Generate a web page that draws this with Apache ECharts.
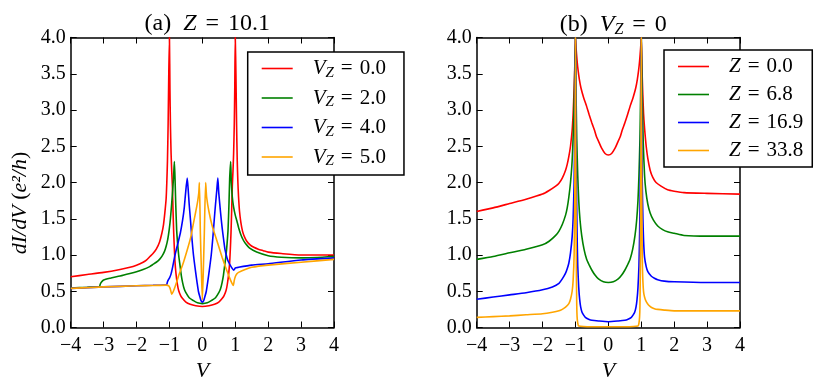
<!DOCTYPE html>
<html>
<head>
<meta charset="utf-8">
<script src="https://cdn.jsdelivr.net/npm/echarts@6/dist/echarts.min.js"></script>
<style>
  html, body { margin: 0; padding: 0; background: #fff; }
  #chart { width: 831px; height: 389px; }
</style>
</head>
<body>
<div id="chart"></div>
<script>
// panel (a): Z = 10.1, one curve per V_Z  -> [V, dI/dV]
const aVz0 = [[-4,0.70],[-3.5,0.73],[-3,0.76],[-2.5,0.80],[-2.2,0.83],[-2,0.86],[-1.8,0.90],[-1.7,0.93],[-1.59,0.98],[-1.5,1.02],[-1.4,1.08],[-1.3,1.18],[-1.23,1.30],[-1.18,1.42],[-1.14,1.58],[-1.1,1.78],[-1.08,2.0],[-1.06,2.3],[-1.04,2.8],[-1.02,3.5],[-1.0,4.0],[-0.985,3.3],[-0.97,2.8],[-0.95,2.4],[-0.93,2.15],[-0.91,1.95],[-0.89,1.6],[-0.87,1.3],[-0.85,1.08],[-0.83,0.9],[-0.8,0.74],[-0.76,0.6],[-0.72,0.51],[-0.66,0.44],[-0.6,0.4],[-0.5,0.35],[-0.37,0.32],[-0.2,0.30],[0,0.29],[0.2,0.30],[0.37,0.32],[0.5,0.35],[0.6,0.4],[0.66,0.44],[0.72,0.51],[0.76,0.6],[0.8,0.74],[0.83,0.9],[0.85,1.08],[0.87,1.3],[0.89,1.6],[0.91,1.95],[0.93,2.15],[0.95,2.4],[0.97,2.8],[0.985,3.3],[1.0,4.0],[1.02,3.5],[1.04,2.8],[1.06,2.3],[1.08,2.0],[1.1,1.8],[1.13,1.6],[1.17,1.45],[1.22,1.33],[1.28,1.25],[1.35,1.19],[1.45,1.14],[1.55,1.11],[1.7,1.08],[1.85,1.06],[2.0,1.04],[2.4,1.02],[3,1.0],[4,1.0]];
const aVz2 = [[-4,0.545],[-3.5,0.555],[-3.13,0.565],[-3.1,0.6],[-3.07,0.625],[-3,0.655],[-2.8,0.68],[-2.5,0.71],[-2.2,0.745],[-2,0.77],[-1.8,0.8],[-1.6,0.84],[-1.5,0.87],[-1.4,0.9],[-1.3,0.94],[-1.23,0.98],[-1.15,1.05],[-1.1,1.12],[-1.05,1.22],[-1.01,1.34],[-0.97,1.5],[-0.93,1.72],[-0.9,1.9],[-0.87,2.12],[-0.85,2.29],[-0.83,2.05],[-0.81,1.72],[-0.78,1.34],[-0.75,1.15],[-0.72,1.0],[-0.68,0.86],[-0.64,0.72],[-0.6,0.62],[-0.55,0.53],[-0.5,0.48],[-0.4,0.41],[-0.27,0.37],[-0.15,0.34],[0,0.33],[0.15,0.34],[0.27,0.37],[0.4,0.41],[0.5,0.48],[0.55,0.53],[0.6,0.62],[0.64,0.72],[0.68,0.86],[0.72,1.0],[0.75,1.15],[0.78,1.34],[0.81,1.72],[0.83,2.05],[0.86,2.29],[0.88,2.0],[0.91,1.8],[0.95,1.66],[1.0,1.55],[1.05,1.47],[1.1,1.38],[1.17,1.28],[1.25,1.2],[1.31,1.16],[1.45,1.09],[1.65,1.04],[2,0.99],[2.4,0.97],[3,0.96],[4,0.98]];
const aVz4 = [[-4,0.54],[-3,0.56],[-2,0.575],[-1.5,0.582],[-1.09,0.59],[-1.06,0.63],[-1.03,0.66],[-1.0,0.68],[-0.95,0.74],[-0.9,0.84],[-0.83,1.0],[-0.75,1.15],[-0.67,1.3],[-0.6,1.48],[-0.55,1.65],[-0.51,1.85],[-0.46,2.06],[-0.43,1.9],[-0.4,1.7],[-0.36,1.48],[-0.33,1.3],[-0.27,1.0],[-0.2,0.75],[-0.16,0.62],[-0.12,0.5],[-0.08,0.43],[-0.04,0.37],[0,0.35],[0.04,0.37],[0.08,0.43],[0.12,0.5],[0.16,0.62],[0.2,0.75],[0.27,1.0],[0.33,1.3],[0.36,1.48],[0.4,1.7],[0.44,1.9],[0.47,2.06],[0.5,1.85],[0.55,1.6],[0.6,1.38],[0.65,1.2],[0.69,1.07],[0.75,0.96],[0.8,0.9],[0.9,0.82],[0.95,0.79],[0.97,0.8],[1.0,0.82],[1.1,0.83],[1.5,0.86],[2,0.88],[3,0.93],[4,0.96]];
const aVz5 = [[-4,0.54],[-3,0.56],[-2,0.575],[-1.5,0.58],[-1.1,0.585],[-1.02,0.575],[-0.98,0.54],[-0.95,0.49],[-0.93,0.46],[-0.88,0.5],[-0.8,0.6],[-0.7,0.74],[-0.58,0.89],[-0.44,1.1],[-0.35,1.25],[-0.27,1.44],[-0.2,1.6],[-0.15,1.72],[-0.11,1.85],[-0.09,2.0],[-0.06,1.3],[-0.03,0.8],[0,0.38],[0.03,0.8],[0.06,1.3],[0.1,2.0],[0.13,1.8],[0.2,1.6],[0.3,1.4],[0.44,1.2],[0.6,0.97],[0.74,0.79],[0.85,0.66],[0.91,0.6],[0.94,0.58],[0.97,0.65],[1.0,0.7],[1.05,0.74],[1.1,0.76],[1.3,0.8],[1.5,0.83],[2,0.86],[3,0.9],[4,0.94]];

// panel (b): V_Z = 0, one curve per Z
const bZ0 = [[-4,1.6],[-3.5,1.65],[-3,1.71],[-2.5,1.77],[-2,1.84],[-1.8,1.89],[-1.6,1.95],[-1.5,1.99],[-1.4,2.06],[-1.3,2.17],[-1.25,2.25],[-1.2,2.36],[-1.15,2.5],[-1.1,2.72],[-1.07,2.95],[-1.04,3.3],[-1.02,3.6],[-1.0,4.0],[-0.98,3.85],[-0.95,3.68],[-0.92,3.55],[-0.88,3.42],[-0.83,3.3],[-0.75,3.17],[-0.66,3.05],[-0.58,2.93],[-0.5,2.82],[-0.42,2.72],[-0.36,2.63],[-0.28,2.55],[-0.2,2.47],[-0.1,2.4],[0,2.38],[0.1,2.4],[0.2,2.47],[0.28,2.55],[0.36,2.63],[0.42,2.72],[0.5,2.82],[0.58,2.93],[0.66,3.05],[0.75,3.17],[0.83,3.3],[0.88,3.42],[0.92,3.55],[0.95,3.68],[0.98,3.85],[1.0,4.0],[1.02,3.6],[1.04,3.3],[1.07,2.95],[1.1,2.75],[1.15,2.5],[1.2,2.33],[1.27,2.17],[1.35,2.07],[1.45,2.0],[1.6,1.95],[1.8,1.9],[2.0,1.88],[2.3,1.86],[3,1.85],[4,1.84]];
const bZ68 = [[-4,0.94],[-3.5,0.98],[-3,1.03],[-2.5,1.08],[-2,1.14],[-1.8,1.19],[-1.6,1.27],[-1.5,1.33],[-1.4,1.42],[-1.3,1.55],[-1.25,1.65],[-1.2,1.8],[-1.15,2.0],[-1.1,2.3],[-1.06,2.75],[-1.03,3.3],[-1.0,4.0],[-0.98,3.2],[-0.96,2.6],[-0.93,2.1],[-0.9,1.75],[-0.86,1.48],[-0.81,1.27],[-0.74,1.08],[-0.66,0.94],[-0.58,0.86],[-0.5,0.79],[-0.4,0.72],[-0.3,0.67],[-0.15,0.63],[0,0.62],[0.15,0.63],[0.3,0.67],[0.4,0.72],[0.5,0.79],[0.58,0.86],[0.66,0.94],[0.74,1.08],[0.81,1.27],[0.86,1.48],[0.9,1.75],[0.93,2.1],[0.96,2.6],[0.98,3.2],[1.0,4.0],[1.03,3.2],[1.06,2.55],[1.1,2.1],[1.14,1.88],[1.2,1.7],[1.27,1.58],[1.37,1.48],[1.5,1.4],[1.65,1.35],[1.8,1.32],[2.0,1.3],[2.3,1.27],[3,1.26],[4,1.26]];
const bZ169 = [[-4,0.39],[-3.5,0.42],[-3,0.45],[-2.5,0.48],[-2,0.52],[-1.7,0.56],[-1.5,0.61],[-1.4,0.67],[-1.3,0.75],[-1.25,0.81],[-1.2,0.89],[-1.15,1.03],[-1.1,1.25],[-1.07,1.5],[-1.04,2.0],[-1.02,2.7],[-1.0,4.0],[-0.99,3.0],[-0.97,2.0],[-0.95,1.3],[-0.93,0.85],[-0.9,0.55],[-0.87,0.38],[-0.84,0.28],[-0.8,0.21],[-0.75,0.17],[-0.7,0.14],[-0.6,0.115],[-0.5,0.1],[-0.3,0.09],[0,0.08],[0.3,0.09],[0.5,0.1],[0.6,0.115],[0.7,0.14],[0.75,0.17],[0.8,0.21],[0.84,0.28],[0.87,0.38],[0.9,0.55],[0.93,0.85],[0.95,1.3],[0.97,2.0],[0.99,3.0],[1.0,4.0],[1.01,3.0],[1.03,2.0],[1.05,1.5],[1.07,1.2],[1.1,0.97],[1.15,0.84],[1.2,0.77],[1.3,0.71],[1.4,0.68],[1.5,0.66],[1.7,0.64],[2,0.63],[3,0.62],[4,0.62]];
const bZ338 = [[-4,0.14],[-3.5,0.15],[-3,0.16],[-2.5,0.175],[-2,0.19],[-1.7,0.21],[-1.5,0.23],[-1.4,0.25],[-1.3,0.28],[-1.2,0.33],[-1.15,0.39],[-1.1,0.5],[-1.07,0.65],[-1.04,1.0],[-1.02,1.8],[-1.0,4.0],[-0.99,2.5],[-0.98,1.5],[-0.97,0.7],[-0.96,0.3],[-0.95,0.15],[-0.93,0.06],[-0.9,0.02],[-0.5,0.01],[0,0.01],[0.5,0.01],[0.9,0.02],[0.93,0.06],[0.95,0.15],[0.96,0.3],[0.97,0.7],[0.98,1.5],[0.99,2.5],[1.0,4.0],[1.01,2.5],[1.02,1.5],[1.03,1.0],[1.04,0.75],[1.06,0.55],[1.08,0.46],[1.12,0.39],[1.16,0.35],[1.22,0.31],[1.3,0.28],[1.4,0.26],[1.5,0.25],[1.7,0.24],[2,0.23],[4,0.23]];

const vzLabels = ['0.0', '2.0', '4.0', '5.0'];
const zLabels = ['0.0', '6.8', '16.9', '33.8'];
const colors = ['#ff0000', '#008000', '#0000ff', '#ffa500'];

const FONT = 'Liberation Serif';
const chart = echarts.init(document.getElementById('chart'));

const gridA = { left: 70.7, top: 37.5, width: 263.3, height: 290 };
const gridB = { left: 476.7, top: 37.5, width: 263.3, height: 290 };

const fmtX = v => (v < 0 ? '\u2212' + (-v) : '' + v);

function xAxis(gi, top) {
  return {
    type: 'value', gridIndex: gi, min: -4, max: 4, interval: 1,
    position: top ? 'top' : 'bottom',
    axisLine: { show: true, onZero: false, lineStyle: { color: '#000', width: 1.5 } },
    axisTick: { show: true, inside: true, length: 6, lineStyle: { color: '#000', width: 1 } },
    axisLabel: { show: !top, margin: 8, formatter: fmtX, color: '#000', fontFamily: FONT, fontSize: 20 },
    splitLine: { show: false },
    name: top ? '' : 'V', nameLocation: 'middle', nameGap: 32,
    nameTextStyle: { fontFamily: FONT, fontStyle: 'italic', fontSize: 22, color: '#000' }
  };
}
function yAxis(gi, right) {
  return {
    type: 'value', gridIndex: gi, min: 0, max: 4, interval: 0.5,
    position: right ? 'right' : 'left',
    axisLine: { show: true, onZero: false, lineStyle: { color: '#000', width: 1.5 } },
    axisTick: { show: true, inside: true, length: 6, lineStyle: { color: '#000', width: 1 } },
    axisLabel: { show: !right, margin: 5, formatter: v => v.toFixed(1), color: '#000', fontFamily: FONT, fontSize: 20 },
    splitLine: { show: false }
  };
}

const txt = (size, italic) => ({ fontFamily: FONT, fontStyle: italic ? 'italic' : 'normal', fontWeight: 'normal', fontSize: size, color: '#000' });

const legendRich = {
  v: Object.assign(txt(21, true), { padding: [0, 0, 0, 15] }),
  s: Object.assign(txt(15, true), { padding: [9, 0, 0, 0] }),
  e: Object.assign(txt(21, false), { padding: [0, 7, 0, 7] }),
  n: txt(21, false)
};

function legend(x, y, names, fmt, padRight) {
  return {
    orient: 'vertical', left: x, top: y, data: names,
    icon: 'rect', itemWidth: 31, itemHeight: 1.6, itemGap: 7,
    backgroundColor: '#fff', borderColor: '#000', borderWidth: 1.5, borderRadius: 0,
    padding: [6, padRight, 6, 14], selectedMode: false,
    formatter: fmt,
    textStyle: { rich: legendRich }
  };
}

function lineSeries(d, i, axis, prefix) {
  return {
    name: prefix + i, type: 'line', xAxisIndex: axis, yAxisIndex: axis, data: d,
    showSymbol: false, symbol: 'none', smooth: 0.2, clip: true,
    color: colors[i], lineStyle: { color: colors[i], width: 1.6 }
  };
}
const seriesA = [aVz0, aVz2, aVz4, aVz5].map((d, i) => lineSeries(d, i, 0, 'a'));
const seriesB = [bZ0, bZ68, bZ169, bZ338].map((d, i) => lineSeries(d, i, 2, 'b'));

const titleRich = {
  i: txt(24, true),
  s: Object.assign(txt(16, true), { padding: [10, 0, 0, 0] }),
  e: Object.assign(txt(24, false), { padding: [0, 9, 0, 9] }),
  n: txt(24, false)
};

chart.setOption({
  animation: false,
  backgroundColor: '#fff',
  title: [
    { text: '{n|(a)  }{i|Z}{e|=}{n|10.1}', left: 202.3, top: 7, textAlign: 'center', textStyle: { rich: titleRich } },
    { text: '{n|(b)  }{i|V}{s|Z}{e|=}{n|0}', left: 608.3, top: 7, textAlign: 'center', textStyle: { rich: titleRich } }
  ],
  grid: [Object.assign({ show: false }, gridA), Object.assign({ show: false }, gridB)],
  xAxis: [xAxis(0, false), xAxis(0, true), xAxis(1, false), xAxis(1, true)],
  yAxis: [yAxis(0, false), yAxis(0, true), yAxis(1, false), yAxis(1, true)],
  legend: [
    legend(247.7, 52, ['a0', 'a1', 'a2', 'a3'], name => '{v|V}{s|Z}{e|=}{n|' + vzLabels[+name.slice(1)] + '}', 18),
    legend(664, 50, ['b0', 'b1', 'b2', 'b3'], name => '{v|Z}{e|=}{n|' + zLabels[+name.slice(1)] + '}', 9)
  ],
  graphic: [{
    type: 'text', x: 20, y: 203, rotation: Math.PI / 2,
    style: {
      text: '{i|dI/dV}{n| (}{i|e\u00b2/h}{n|)}',
      align: 'center', verticalAlign: 'middle',
      rich: { i: txt(22, true), n: txt(22, false) }
    }
  }],
  series: seriesA.concat(seriesB)
});
</script>
</body>
</html>
